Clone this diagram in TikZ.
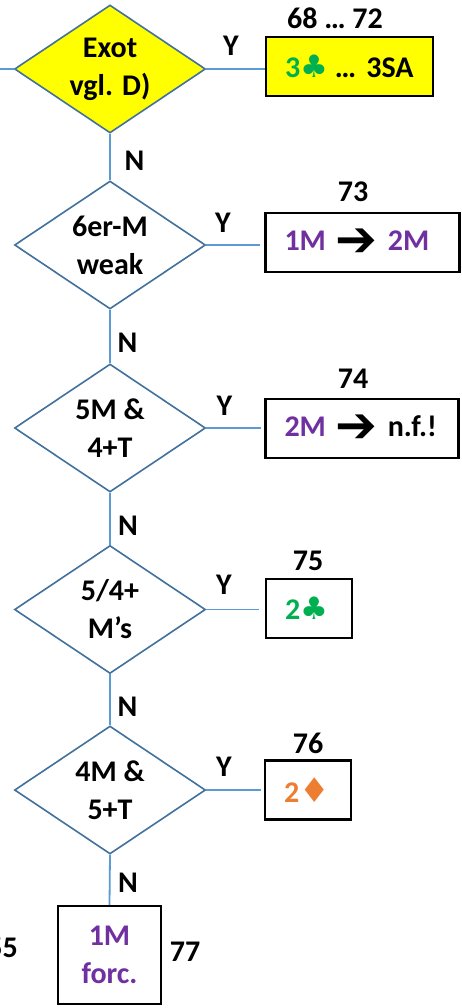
\documentclass[tikz,border=0pt]{standalone}
\usepackage{fontspec}
\setmainfont{Carlito}
\newfontfamily\symfont{DejaVu Sans}[BoldFont={DejaVu Sans}]
\usetikzlibrary{shapes.geometric}
\definecolor{hilite}{HTML}{FFFF00}
\definecolor{diaedge}{HTML}{41719C}
\definecolor{linkblue}{HTML}{5B9BD5}
\definecolor{bidpurple}{HTML}{7030A0}
\definecolor{clubgreen}{HTML}{00B050}
\definecolor{diamorange}{HTML}{ED7D31}
% heavy arrow between bids
\newcommand{\bidarrow}{\raisebox{-5.5pt}{\symfont\fontsize{50}{50}\selectfont ➔}}
\newcommand{\clubsym}{{\symfont\fontsize{31}{31}\selectfont ♣}}
\newcommand{\diamsym}{{\symfont\fontsize{34}{34}\selectfont ♦}}

\begin{document}
\begin{tikzpicture}[x=1pt,y=-1pt,
  every node/.style={font=\fontsize{30}{38}\selectfont\bfseries},
  decision/.style={diamond, draw=diaedge, line width=1.6pt, aspect=1.49,
    minimum width=191pt, minimum height=128pt, inner sep=0pt, align=center},
  result/.style={draw=black, line width=2.2pt, minimum height=59pt,
    inner xsep=19pt, inner ysep=0pt, align=left},
  link/.style={draw=linkblue, line width=1.8pt},
  tag/.style={inner sep=0pt}]

% page area
\path[fill=white, use as bounding box] (0,0) rectangle (462,1008);

% decisions
\node[decision, fill=hilite] (d1) at (110,69) {Exot\\vgl. D)};
\node[decision] (d2) at (110,245) {6er-M\\weak};
\node[decision] (d3) at (110,428) {5M \&\\4+T};
\node[decision] (d4) at (110,609.5) {5/4+\\M’s};
\node[decision] (d5) at (110,790) {4M \&\\5+T};

% outcomes
\node[result, fill=hilite, text width=129pt] (b1) at (349.5,66.5)
  {\textcolor{clubgreen}{3\clubsym}\kern-3pt~…~3SA};
\node[result, text width=156pt] (b2) at (362.5,242.5)
  {\textcolor{bidpurple}{1M}~\bidarrow~\textcolor{bidpurple}{2M}};
\node[result, text width=155pt] (b3) at (362,428.5)
  {\textcolor{bidpurple}{2M}~\bidarrow~n.f.!};
\node[result, text width=48pt] (b4) at (309,608.5)
  {\textcolor{clubgreen}{2\clubsym}};
\node[result, text width=48pt] (b5) at (308,790)
  {\textcolor{diamorange}{2\diamsym}};
\node[result, text=bidpurple, minimum width=103pt, minimum height=98pt,
  inner xsep=0pt, align=center] (b6) at (109.5,955) {1M\\forc.};

% connectors
\coordinate (entry) at (0,69);
\draw[link] (entry) -- (d1.west);
\draw[link] (d1.east) -- (d1.east -| b1.west);
\draw[link, shorten >=4pt] (d2.east) -- (d2.east -| b2.west);
\draw[link, shorten >=3pt] (d3.east) -- (d3.east -| b3.west);
\draw[link, shorten >=6pt] (d4.east) -- (d4.east -| b4.west);
\draw[link, shorten >=3pt] (d5.east) -- (d5.east -| b5.west);
\draw[link] (d1.south) -- (d2.north);
\draw[link] (d2.south) -- (d3.north);
\draw[link] (d3.south) -- (d4.north);
\draw[link] (d4.south) -- (d5.north);
\draw[link] (d5.south) -- (b6.north);

% branch labels
\node[tag] (y1) at (231,46) {Y};
\node[tag] (y2) at (223,223) {Y};
\node[tag] (y3) at (224.5,406) {Y};
\node[tag] (y4) at (224,585) {Y};
\node[tag] (y5) at (224,767) {Y};
\node[tag] (nn1) at (134.5,161) {N};
\node[tag] (nn2) at (127.5,343) {N};
\node[tag] (nn3) at (128,525.5) {N};
\node[tag] (nn4) at (127.5,707) {N};
\node[tag] (nn5) at (128,883) {N};

% reference numbers
\node[tag] (r68) at (335,18) {68 … 72};
\node[tag] (r73) at (353,192) {73};
\node[tag] (r74) at (353,378.5) {74};
\node[tag] (r75) at (308,561) {75};
\node[tag] (r76) at (308,743) {76};
\node[tag] (r77) at (185,952) {77};
\node[tag, anchor=east] (r55) at (18,948) {55};
\end{tikzpicture}
\end{document}
